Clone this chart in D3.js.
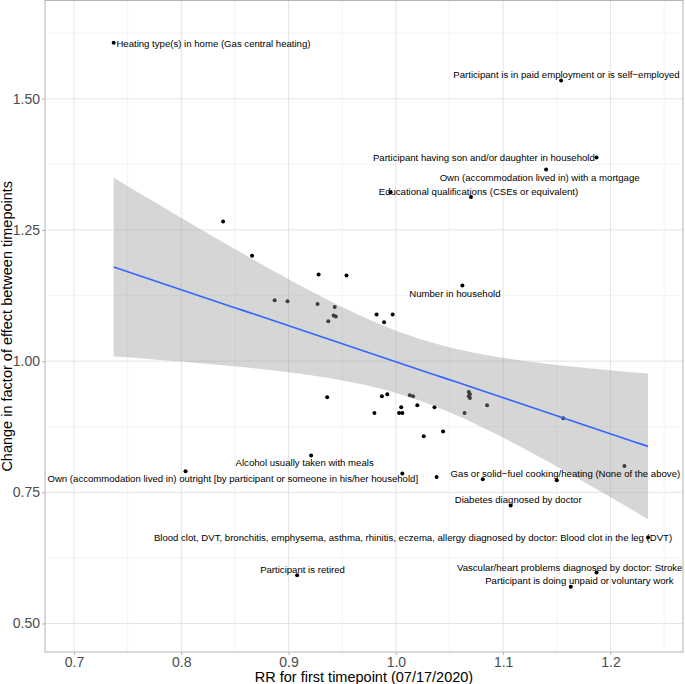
<!DOCTYPE html>
<html>
<head>
<meta charset="utf-8">
<script src="https://cdn.jsdelivr.net/npm/d3@7"></script>
<style>
  html, body { margin: 0; padding: 0; background: #fff; }
  svg { display: block; font-family: "Liberation Sans", Arial, Helvetica, sans-serif; }
</style>
</head>
<body>
<svg id="chart" width="685" height="684"></svg>
<script>
// ---- Data ----
const rrFirst = [
  0.737, 1.154, 1.187, 1.140, 0.995, 1.070, 1.062, 0.839, 0.866, 0.928,
  0.954, 0.887, 0.899, 0.927, 0.943, 0.942, 0.944, 0.937, 0.982, 0.997,
  0.989, 0.936, 0.987, 0.992, 1.013, 1.016, 1.005, 1.020, 0.980, 1.003,
  1.006, 1.036, 1.026, 1.044, 1.068, 1.069, 1.068, 1.069, 1.064, 1.085,
  1.156, 1.213, 1.150, 1.081, 1.038, 1.006, 0.921, 0.804, 1.107, 1.235,
  0.908, 1.187, 1.163
];
const changeFactor = [
  1.607, 1.535, 1.388, 1.365, 1.322, 1.313, 1.144, 1.266, 1.201, 1.165,
  1.163, 1.116, 1.114, 1.109, 1.103, 1.087, 1.085, 1.076, 1.089, 1.089,
  1.074, 0.931, 0.933, 0.937, 0.935, 0.933, 0.912, 0.916, 0.901, 0.901,
  0.901, 0.912, 0.857, 0.866, 0.941, 0.937, 0.933, 0.930, 0.901, 0.916,
  0.891, 0.800, 0.773, 0.775, 0.779, 0.786, 0.820, 0.790, 0.725, 0.664,
  0.592, 0.597, 0.570
];

const labelTexts = [
  "Heating type(s) in home (Gas central heating)",
  "Participant is in paid employment or is self\u2212employed",
  "Participant having son and/or daughter in household",
  "Own (accommodation lived in) with a mortgage",
  "Educational qualifications (CSEs or equivalent)",
  "Number in household",
  "Alcohol usually taken with meals",
  "Own (accommodation lived in) outright [by participant or someone in his/her household]",
  "Gas or solid\u2212fuel cooking/heating (None of the above)",
  "Diabetes diagnosed by doctor",
  "Blood clot, DVT, bronchitis, emphysema, asthma, rhinitis, eczema, allergy diagnosed by doctor: Blood clot in the leg (DVT)",
  "Participant is retired",
  "Vascular/heart problems diagnosed by doctor: Stroke",
  "Participant is doing unpaid or voluntary work"
];
// repelled label positions (data units)
const labelX = [0.830, 1.159, 1.082, 1.134, 1.077, 1.055, 0.915, 0.848, 1.158, 1.114, 1.016, 0.913, 1.162, 1.171];
const labelY = [1.605, 1.546, 1.388, 1.350, 1.323, 1.129, 0.807, 0.776, 0.786, 0.737, 0.664, 0.603, 0.607, 0.582];

const xTicks = [0.7, 0.8, 0.9, 1.0, 1.1, 1.2];
const xMinor = [0.75, 0.85, 0.95, 1.05, 1.15, 1.25];
const yTicks = [0.50, 0.75, 1.00, 1.25, 1.50];
const yMinor = [0.625, 0.875, 1.125, 1.375, 1.625];
const xDomain = [0.673, 1.2676];
const yDomain = [0.4457, 1.6873];

// ---- Layout ----
const svg = d3.select("#chart");
const panel = { left: 45, right: 683, top: 0.5, bottom: 652 };
const x = d3.scaleLinear().domain(xDomain).range([panel.left, panel.right]);
const y = d3.scaleLinear().domain(yDomain).range([panel.bottom, panel.top]);

// grid
const g = svg.append("g");
g.selectAll(".xminor").data(xMinor).join("line")
  .attr("x1", d => x(d)).attr("x2", d => x(d))
  .attr("y1", panel.top).attr("y2", panel.bottom)
  .attr("stroke", "#ededed").attr("stroke-width", 0.6);
g.selectAll(".yminor").data(yMinor).join("line")
  .attr("y1", d => y(d)).attr("y2", d => y(d))
  .attr("x1", panel.left).attr("x2", panel.right)
  .attr("stroke", "#ededed").attr("stroke-width", 0.6);
g.selectAll(".xmajor").data(xTicks).join("line")
  .attr("x1", d => x(d)).attr("x2", d => x(d))
  .attr("y1", panel.top).attr("y2", panel.bottom)
  .attr("stroke", "#e4e4e4").attr("stroke-width", 1);
g.selectAll(".ymajor").data(yTicks).join("line")
  .attr("y1", d => y(d)).attr("y2", d => y(d))
  .attr("x1", panel.left).attr("x2", panel.right)
  .attr("stroke", "#e4e4e4").attr("stroke-width", 1);

// points
const pts = rrFirst.map((v, i) => ({ x: v, y: changeFactor[i] }));
svg.append("g").selectAll("circle").data(pts).join("circle")
  .attr("cx", d => x(d.x)).attr("cy", d => y(d.y)).attr("r", 2)
  .attr("fill", "#000");

// linear fit with 95% CI
const n = pts.length;
const mx = d3.mean(pts, d => d.x), my = d3.mean(pts, d => d.y);
const sxx = d3.sum(pts, d => (d.x - mx) ** 2);
const sxy = d3.sum(pts, d => (d.x - mx) * (d.y - my));
const b = sxy / sxx, a = my - b * mx;
const sse = d3.sum(pts, d => (d.y - (a + b * d.x)) ** 2);
const s = Math.sqrt(sse / (n - 2));
const tval = 2.0076;
const [xmin, xmax] = d3.extent(pts, d => d.x);
const grid = d3.range(0, 81).map(i => xmin + (xmax - xmin) * i / 80);
const fit = grid.map(xv => {
  const yh = a + b * xv;
  const se = s * Math.sqrt(1 / n + (xv - mx) ** 2 / sxx);
  return { x: xv, y: yh, lo: yh - tval * se, hi: yh + tval * se };
});
svg.append("path").datum(fit)
  .attr("d", d3.area().x(d => x(d.x)).y0(d => y(d.lo)).y1(d => y(d.hi)))
  .attr("fill", "#999999").attr("fill-opacity", 0.4);
svg.append("path").datum(fit)
  .attr("d", d3.line().x(d => x(d.x)).y(d => y(d.y)))
  .attr("fill", "none").attr("stroke", "#3366FF").attr("stroke-width", 1.6);

// labels
svg.append("g").selectAll("text").data(labelTexts).join("text")
  .attr("x", (d, i) => x(labelX[i])).attr("y", (d, i) => y(labelY[i]))
  .attr("dy", "0.35em").attr("text-anchor", "middle")
  .attr("font-size", 9.6).attr("fill", "#000").text(d => d);

// panel border
svg.append("rect")
  .attr("x", panel.left).attr("y", panel.top)
  .attr("width", panel.right - panel.left).attr("height", panel.bottom - panel.top)
  .attr("fill", "none").attr("stroke", "#b3b3b3").attr("stroke-width", 1);

// axes
const xAxis = d3.axisBottom(x).tickValues(xTicks).tickFormat(d3.format(".1f")).tickSize(3).tickPadding(2);
const yAxis = d3.axisLeft(y).tickValues(yTicks).tickFormat(d3.format(".2f")).tickSize(3).tickPadding(2);
const gx = svg.append("g").attr("transform", `translate(0,${panel.bottom})`).call(xAxis);
const gy = svg.append("g").attr("transform", `translate(${panel.left},0)`).call(yAxis);
[gx, gy].forEach(ax => {
  ax.select(".domain").remove();
  ax.selectAll(".tick line").attr("stroke", "#b3b3b3");
  ax.selectAll(".tick text").attr("fill", "#4d4d4d").attr("font-size", 14)
    .attr("font-family", "Liberation Sans, Arial, sans-serif");
});

// axis titles
svg.append("text").attr("x", (panel.left + panel.right) / 2).attr("y", 682)
  .attr("text-anchor", "middle").attr("font-size", 14.5).attr("fill", "#000")
  .text("RR for first timepoint (07/17/2020)");
svg.append("text")
  .attr("transform", `translate(7,${(panel.top + panel.bottom) / 2}) rotate(-90)`)
  .attr("text-anchor", "middle").attr("dy", "0.35em").attr("font-size", 14.5).attr("fill", "#000")
  .text("Change in factor of effect between timepoints");
</script>
</body>
</html>
